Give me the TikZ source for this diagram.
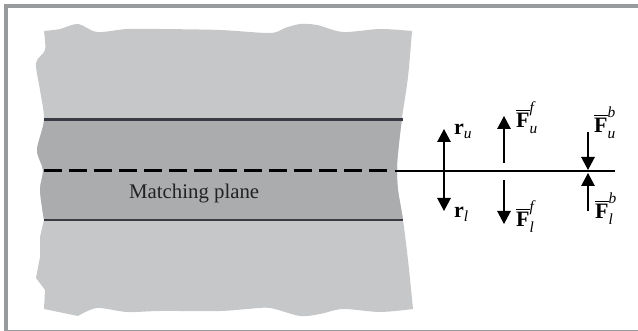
\documentclass[tikz,border=0pt]{standalone}
\usepackage{amsmath}
\usepackage{fontspec}
\setmainfont{Liberation Serif}
\usepackage{tikz}
\usetikzlibrary{arrows.meta, positioning}

\definecolor{framegray}{HTML}{999A9B}
\definecolor{bodygray}{HTML}{C6C7C9}
\definecolor{bandgray}{HTML}{ABACAE}
\definecolor{edgedark}{HTML}{3A3A44}
\definecolor{textdark}{HTML}{222222}

\newcommand{\vecF}[2]{$\overline{\text{\bfseries F}}^{\raisebox{3pt}{$\scriptstyle\text{\itshape #1}$}}_{\text{\itshape #2}}$}
\newcommand{\vecR}[1]{$\text{\bfseries r}_{\text{\itshape #1}}$}
\newcommand{\bodyoutline}{plot[smooth, tension=0.5] coordinates {
    (44,31) (60,29) (78,24) (97,32) (127,29) (160,29) (220,30) (270,33) (285,28) (300,24) (317,25) (343,32)
    (380,29) (412,31)}
  -- plot[smooth, tension=0.5] coordinates {
    (412,31) (408,77) (402,118) (398,153) (397,170) (398,190) (403,220) (408,260) (413,309)}
  -- plot[smooth, tension=0.5] coordinates {
    (413,309) (380,312) (343,309) (320,314) (300,316) (270,308) (247,309) (220,311) (160,311) (127,312) (97,308)
    (78,316)}
  -- (44,309) -- (45,290) -- (36,278) -- (40,257) -- (40,237) -- (44,220)
  -- plot[smooth, tension=0.5] coordinates {
    (44,220) (40,190) (43,170) (37,150) (44,120) (40,90) (36,63) (45,50) (44,31)}}

\tikzset{
  facing/.style={edgedark, line width=2.8pt},
  forcearrow/.style={black, line width=1.3pt, -{Triangle[width=13.5pt, length=13pt]}},
  forcelabel/.style={inner sep=0pt, font=\fontsize{22}{24}\selectfont}
}

\begin{document}
\begin{tikzpicture}[x=1pt, y=-1pt]
  \useasboundingbox (0,0) rectangle (638,331);

  % Frame
  \fill[framegray] (4,4) rectangle (638,8);
  \fill[framegray] (4,4) rectangle (8,331);
  \fill[framegray] (4,329.6) rectangle (638,331);

  % Body and band
  \fill[bodygray] \bodyoutline -- cycle;
  \begin{scope}
    \clip \bodyoutline -- cycle;
    \fill[bandgray] (30,120) rectangle (420,220);
  \end{scope}

  % Faces and matching plane
  \draw[facing] (44,119.5) -- (403,119.5);
  \draw[facing] (44,220) -- (403,220);
  \draw[black, line width=2.4pt, dash pattern=on 18pt off 7pt, dash phase=24pt] (43,170.5) -- (393,170.5);
  \draw[black, line width=2.8pt] (395,171) -- (615,171);
  \node[inner sep=0pt, anchor=base west, text=textdark, font=\fontsize{20.8}{22}\selectfont] (planelabel) at (129,199) {Matching plane};

  % r arrows
  \draw[forcearrow] (444,171) -- (444,129);
  \draw[forcearrow] (444,171) -- (444,211);
  \node[forcelabel, anchor=base west] (ru) at (454,135) {\vecR{u}};
  \node[forcelabel, anchor=base west] (rl) at (454,218) {\vecR{l}};

  % F front arrows
  \draw[forcearrow] (504,163) -- (504,116);
  \draw[forcearrow] (504,180) -- (504,224);
  \node[forcelabel, anchor=base west] (ffu) at (516,128) {\vecF{f}{u}};
  \node[forcelabel, anchor=base west] (ffl) at (516,227) {\vecF{f}{l}};

  % F back arrows
  \draw[forcearrow] (588,132) -- (588,170);
  \draw[forcearrow] (588,211) -- (588,173);
  \node[forcelabel, anchor=base west] (fbu) at (594,133) {\vecF{b}{u}};
  \node[forcelabel, anchor=base west] (fbl) at (595,219) {\vecF{b}{l}};
\end{tikzpicture}
\end{document}
